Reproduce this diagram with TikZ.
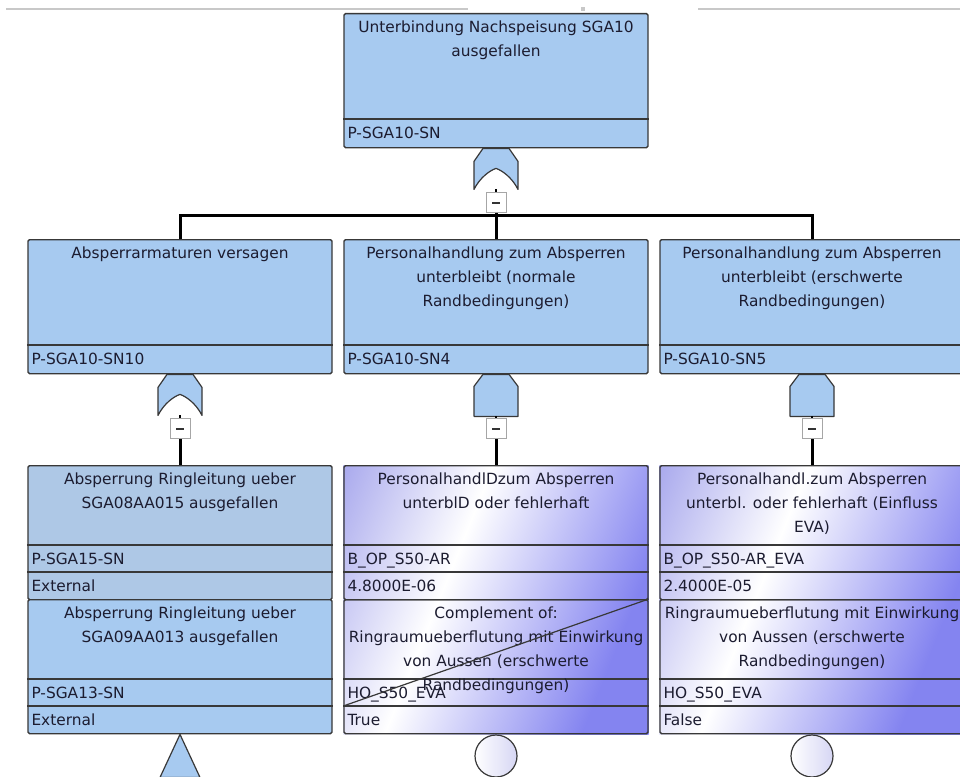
\documentclass[tikz,border=0pt]{standalone}
\usepackage{fontspec}
\setmainfont{DejaVu Sans}
\usetikzlibrary{calc,positioning,backgrounds}
\definecolor{evblue}{HTML}{A7CAF0}
\definecolor{evgrey}{HTML}{AEC8E6}
\definecolor{evborder}{HTML}{383838}
\definecolor{evtext}{HTML}{1C1C30}
\definecolor{shadeblue}{HTML}{8484F0}
\definecolor{shadeleft}{HTML}{A4A4EC}
\definecolor{circlav}{HTML}{D6D6F4}
\definecolor{topline}{HTML}{C8C8C8}
\pgfdeclarehorizontalshading{evfade}{100bp}{color(0bp)=(shadeleft); color(16bp)=(shadeleft); color(41bp)=(white); color(72bp)=(shadeblue); color(100bp)=(shadeblue)}
\newcommand{\evfont}{\fontsize{15.4}{24}\selectfont}
\tikzset{
  evbox/.style={draw=evborder, line width=1.4pt, rounded corners=1.5pt, minimum width=304pt, minimum height=134pt, anchor=north, inner sep=0pt},
  evsep/.style={draw=evborder, line width=1.4pt},
  evtitle/.style={anchor=north, align=center, inner sep=0pt, text=evtext, font=\evfont},
  evid/.style={anchor=base west, inner sep=0pt, text=evtext, font=\evfont},
  gatebody/.style={draw=evborder, fill=evblue, line width=1.2pt, line join=round},
  minusbox/.style={draw=gray!70, fill=white, line width=0.9pt, minimum size=20pt, inner sep=0pt,
    path picture={\draw[line width=1.3pt, black!80] ([xshift=-4pt]path picture bounding box.center) -- ([xshift=4pt]path picture bounding box.center);}},
  basiccircle/.style={circle, draw=evborder, line width=1.2pt, left color=white, right color=circlav, minimum size=42pt, inner sep=0pt, anchor=north},
  tick/.style={line width=2pt},
  conn/.style={line width=3pt},
  strike/.style={draw=evborder, line width=1.2pt},
}
\newcommand{\faultbox}[5]{% {name}{x}{y top}{title}{id}
  \node[evbox, fill=evblue] (#1) at (#2,#3) {};
  \draw[evsep] (#1.west |- 0,#3+106) -- (#1.east |- 0,#3+106);
  \node[evtitle] at (#2,#3+8) {#4};
  \node[evid] at ($(#1.west |- 0,#3+125.6)+(4,0)$) {#5};
}
\newcommand{\basicevent}[7]{% {name}{x}{y top}{fill}{title}{id}{value}
  \node[evbox, fill=#4] (#1) at (#2,#3) {};
  \draw[evsep] (#1.west |- 0,#3+80) -- (#1.east |- 0,#3+80);
  \draw[evsep] (#1.west |- 0,#3+107) -- (#1.east |- 0,#3+107);
  \node[evtitle] at (#2,#3+8) {#5};
  \node[evid] at ($(#1.west |- 0,#3+99.1)+(4,0)$) {#6};
  \node[evid] at ($(#1.west |- 0,#3+126.1)+(4,0)$) {#7};
}
\newcommand{\orgate}[1]{% {top point}
  \begin{scope}[shift={(#1)}]
    \filldraw[gatebody] (-13,0) -- (13,0) -- (22,13) -- (22,41) .. controls (16,29) and (6,22) .. (0,20) .. controls (-6,22) and (-16,29) .. (-22,41) -- (-22,13) -- cycle;
  \end{scope}
}
\newcommand{\andgate}[1]{% {top point}
  \begin{scope}[shift={(#1)}]
    \filldraw[gatebody] (-13,0) -- (13,0) -- (22,12) -- (22,42) -- (-22,42) -- (-22,12) -- cycle;
  \end{scope}
}
\begin{document}
\begin{tikzpicture}[x=1pt,y=-1pt]
  \useasboundingbox (0,0) rectangle (960,776);
  % window edge
  \draw[topline, line width=2.5pt] (6,9) -- (468,9);
  \draw[topline, line width=2.5pt] (698,9) -- (960,9);
  \fill[topline] (581,7) rectangle (585,11);
  % Top event
  \faultbox{b0}{496}{13}{Unterbindung Nachspeisung SGA10\\ausgefallen}{P-SGA10-SN}
  \orgate{b0.south}
  \coordinate (g0) at ($(b0.south)+(0,41)$);
  \node[minusbox, below=3pt of g0] (m0) {};
  \draw[tick] (g0) -- (m0.north);
  % Second level
  \faultbox{b1}{180}{239}{Absperrarmaturen versagen}{P-SGA10-SN10}
  \faultbox{b2}{496}{239}{Personalhandlung zum Absperren\\unterbleibt (normale\\Randbedingungen)}{P-SGA10-SN4}
  \faultbox{b3}{812}{239}{Personalhandlung zum Absperren\\unterbleibt (erschwerte\\Randbedingungen)}{P-SGA10-SN5}
  \coordinate (bus) at ($(m0.south)+(0,2)$);
  \draw[conn] (m0.south) -- (bus);
  \draw[conn] (b1.north) |- (bus) -| (b3.north);
  \draw[conn] (bus) -- (b2.north);
  \orgate{b1.south}
  \andgate{b2.south}
  \andgate{b3.south}
  \coordinate (g1) at ($(b1.south)+(0,41)$);
  \coordinate (g2) at ($(b2.south)+(0,42)$);
  \coordinate (g3) at ($(b3.south)+(0,42)$);
  \node[minusbox, below=3pt of g1] (m1) {};
  \node[minusbox, below=2pt of g2] (m2) {};
  \node[minusbox, below=2pt of g3] (m3) {};
  \draw[tick] (g1) -- (m1.north);
  \draw[tick] (g2) -- (m2.north);
  \draw[tick] (g3) -- (m3.north);
  % Third level
  \basicevent{e1a}{180}{465}{evgrey}{Absperrung Ringleitung ueber\\SGA08AA015 ausgefallen}{P-SGA15-SN}{External}
  \basicevent{e1b}{180}{599}{evblue}{Absperrung Ringleitung ueber\\SGA09AA013 ausgefallen}{P-SGA13-SN}{External}
  \basicevent{e2a}{496}{465}{none}{PersonalhandlDzum Absperren\\unterblD oder fehlerhaft}{B\_OP\_S50-AR}{4.8000E-06}
  \basicevent{e2b}{496}{599}{none}{Complement of:\\Ringraumueberflutung mit Einwirkung\\von Aussen (erschwerte\\Randbedingungen)}{HO\_S50\_EVA}{True}
  \basicevent{e3a}{812}{465}{none}{Personalhandl.zum Absperren\\unterbl. oder fehlerhaft (Einfluss\\EVA)}{B\_OP\_S50-AR\_EVA}{2.4000E-05}
  \basicevent{e3b}{812}{599}{none}{Ringraumueberflutung mit Einwirkung\\von Aussen (erschwerte\\Randbedingungen)}{HO\_S50\_EVA}{False}
  \begin{scope}[on background layer]
    \shade[shading=evfade, shading angle=-22] (e2a.north west) rectangle (e2b.south east);
    \shade[shading=evfade, shading angle=-22] (e3a.north west) rectangle (e3b.south east);
  \end{scope}
  \draw[strike] (e2b.west |- 0,706) -- (e2b.north east);
  \draw[conn] (m1.south) -- (e1a.north);
  \draw[conn] (m2.south) -- (e2a.north);
  \draw[conn] (m3.south) -- (e3a.north);
  % Transfer and house events
  \filldraw[gatebody] (e1b.south) -- ++(20,43) -- ++(-40,0) -- cycle;
  \node[basiccircle] (c2) at (e2b.south) {};
  \node[basiccircle] (c3) at (e3b.south) {};
\end{tikzpicture}
\end{document}
